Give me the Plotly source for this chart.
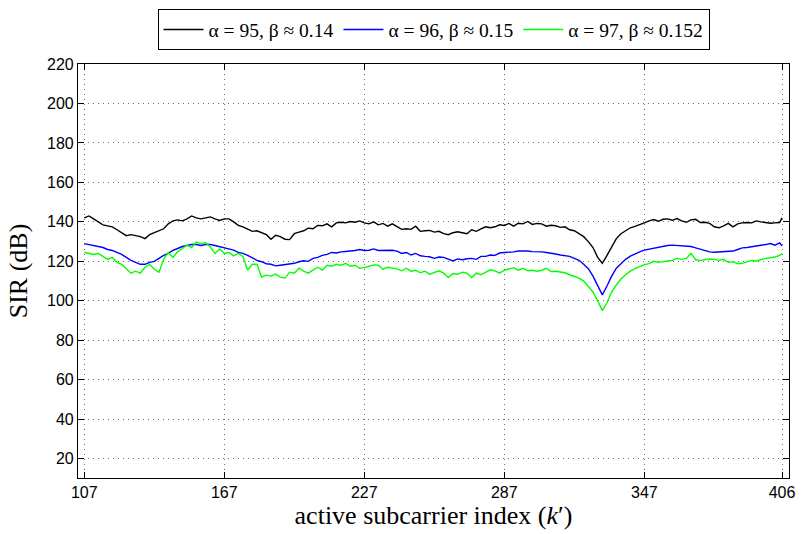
import plotly.graph_objects as go

# subcarrier index (every second active subcarrier, plus the last one)
k_index = list(range(107, 406, 2)) + [406]

sir_a95 = [
    142, 143, 141.5, 140, 138.5, 138, 137.5, 136, 134.5, 133,
    133.5, 133, 132.5, 131.5, 133.5, 134.5, 135.5, 136.5, 139, 140.5,
    141, 140.5, 141.5, 143, 142, 141.5, 142, 142.5, 141.5, 140.7,
    141.5, 141.5, 140, 138.2, 137.5, 136.5, 135.2, 135.5, 134.5, 133.5,
    131.2, 133.2, 132.5, 131.2, 131, 134, 134.8, 135.5, 136.8, 136.5,
    138.2, 138, 139, 137.5, 139.5, 139.8, 139.5, 140.2, 139.8, 140.5,
    139.5, 139, 140, 138.5, 139.2, 137.8, 139, 137.5, 136.2, 136.5,
    136.2, 137.8, 135.2, 135.5, 135.7, 134.8, 135.2, 134, 133.5, 134.5,
    135, 134.5, 134, 136, 135.2, 136.5, 137.5, 137, 137.5, 138.5,
    138.2, 139.2, 137.8, 139.3, 139, 140.2, 138.7, 139.2, 139, 137.8,
    138.3, 138, 137.2, 137.5, 136, 135.5, 134.2, 132.5, 130, 127,
    122, 119, 123, 127, 131.5, 134, 135.5, 137, 137.7, 138.8,
    139.5, 140.5, 141.2, 140.3, 141.3, 141.5, 140.8, 141.7, 140.5, 139.8,
    141, 141.3, 139.7, 139.8, 139.2, 137.5, 137, 138, 139.2, 137.5,
    139, 139.5, 139.7, 139.5, 140.5, 140, 139.8, 139.3, 139.5, 139.7,
    142,
]

sir_a96 = [
    129, 128.5, 128, 127.5, 127, 126, 125.5, 124.5, 123.5, 122,
    120.5, 119.5, 118.5, 118.5, 119.5, 120, 121.5, 123, 124, 125.5,
    126.5, 127.5, 128, 128.5, 128.5, 128, 128.5, 128.5, 128, 127.5,
    127, 126.5, 125.7, 124.5, 124, 123, 121.8, 120.5, 119.8, 118.8,
    118.5, 117.7, 118, 118.3, 118.5, 119, 119.8, 120.3, 120, 121.5,
    122, 123, 123.5, 124.5, 124.2, 124.8, 125, 125.2, 125.5, 126,
    125.5, 125.6, 126.3, 125.5, 125.6, 125.8, 125.6, 125.2, 124, 124.5,
    123.2, 124, 122.8, 122.5, 122.3, 121.5, 122.2, 122, 121, 120.2,
    121.2, 120.8, 121.3, 121.5, 121, 122.5, 122.5, 123.2, 123, 124.2,
    124.5, 124.6, 124.8, 125.2, 125.3, 125.2, 124.9, 125, 124.8, 124.5,
    124.2, 123.7, 123.2, 122.8, 122.5, 121.5, 120.5, 118.5, 116.3, 112.5,
    107.5, 103, 107.5, 112.5, 116.5, 119, 121, 122.6, 123.8, 124.8,
    125.7, 126.2, 126.8, 127.3, 127.6, 128, 128.2, 128, 127.6, 127.5,
    127.5, 126.8, 126.2, 125.5, 124.8, 124.6, 124.7, 125, 125, 125.2,
    126, 126.8, 127, 127.3, 127.6, 128.2, 128.5, 129, 128.2, 129.3,
    127.8,
]

sir_a97 = [
    124.5, 124, 123.5, 124, 122.5, 121, 122, 119.5, 118.5, 116.5,
    114, 115, 114, 117, 118.5, 116, 114.5, 121, 124.5, 122,
    124.8, 126.5, 128.2, 127, 129.8, 129, 129.5, 127.3, 124, 126.3,
    124, 124.5, 122.8, 124, 122.5, 115.5, 118.5, 118.5, 112, 113,
    112.5, 113.5, 112, 111.5, 114.5, 114, 116.5, 115, 114, 115.5,
    117, 115.5, 118, 117.5, 118.5, 118, 119, 117.5, 118, 116.5,
    116.8, 117.5, 118.2, 118, 116, 117, 116.5, 116.2, 115.2, 116.5,
    115, 115.5, 114.2, 115, 113.5, 114.5, 115.2, 114, 111.8, 113.8,
    113.5, 114.5, 114, 111.8, 114, 113.2, 114.5, 115.7, 115.2, 114,
    115.5, 116, 116.8, 115.5, 116.5, 115.2, 115.5, 115, 115.5, 116.5,
    114.8, 115, 114.5, 114.2, 113.2, 112.5, 111.5, 110, 107.5, 104.5,
    100, 95, 99, 104.5, 108, 111, 113.2, 115, 116.3, 117.5,
    118.3, 118.8, 120, 119.5, 120, 120.2, 120.5, 121.5, 121, 121.5,
    124, 120.8, 120.5, 121, 121.2, 121, 120.5, 121, 119.5, 119.8,
    118.8, 119, 119.8, 120.5, 120.2, 121, 121.5, 121.8, 122.2, 123,
    124,
]

series_names = ["α = 95, β ≈ 0.14", "α = 96, β ≈ 0.15", "α = 97, β ≈ 0.152"]
series_colors = ["#000000", "#0000ff", "#00ff00"]

x_ticks = [107, 167, 227, 287, 347, 406]
y_ticks = [20, 40, 60, 80, 100, 120, 140, 160, 180, 200, 220]

fig = go.Figure()
for name, vals, col in zip(series_names, [sir_a95, sir_a96, sir_a97], series_colors):
    fig.add_trace(go.Scatter(
        x=k_index, y=vals, mode="lines", name=name,
        line=dict(color=col, width=1.4),
    ))

axis_common = dict(
    showline=True, linecolor="black", linewidth=1.2, mirror="allticks",
    ticks="inside", ticklen=6, tickcolor="black", tickwidth=1,
    showgrid=True, gridcolor="#707070", griddash="1px,4px", gridwidth=1,
    zeroline=False,
    tickfont=dict(family="Liberation Sans, Arial, sans-serif", size=16, color="black"),
)

title_font = dict(family="Liberation Serif, Times New Roman, serif", size=26, color="black")

fig.update_xaxes(
    range=[104.3, 409], tickmode="array", tickvals=x_ticks,
    ticktext=[str(t) for t in x_ticks],
    title=dict(text="active subcarrier index (<i>k</i>′)", font=title_font, standoff=2),
    **axis_common,
)
fig.update_yaxes(
    range=[10.2, 220], tickmode="array", tickvals=y_ticks,
    title=dict(text="SIR (dB)", font=title_font, standoff=11),
    **axis_common,
)

fig.update_layout(
    width=804, height=534,
    margin=dict(l=78, r=9, t=57, b=56),
    paper_bgcolor="white", plot_bgcolor="white",
    showlegend=True,
    legend=dict(
        orientation="h", x=0.5, xanchor="center", y=1.132, yanchor="top",
        bordercolor="black", borderwidth=1, bgcolor="white",
        font=dict(family="Liberation Serif, Times New Roman, serif", size=19.5, color="black"),
        itemwidth=40,
    ),
)

fig.write_html("out.html")
